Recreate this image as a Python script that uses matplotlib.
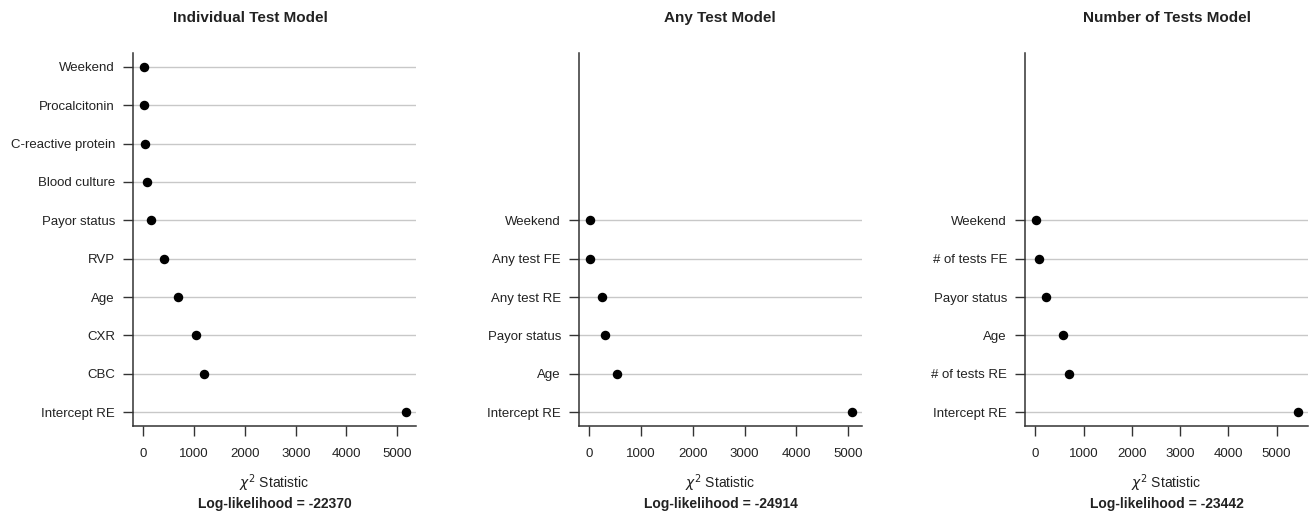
import numpy as np
import matplotlib.pyplot as plt

plt.rcParams['font.family'] = ['Liberation Sans', 'DejaVu Sans']

# Individual test model
ind_labels = ["Weekend", "Procalcitonin", "C-reactive protein", "Blood culture", "Payor status",
              "RVP", "Age", "CXR", "CBC", "Intercept RE"]
ind_chi2 = [5, 20, 33, 65, 150, 413, 675, 1035, 1193, 5164]

# Any test model
any_labels = ["Weekend", "Any test FE", "Any test RE", "Payor status", "Age", "Intercept RE"]
any_chi2 = [6, 6, 244, 302, 533, 5071]

# Number of tests model
num_labels = ["Weekend", "# of tests FE", "Payor status", "Age", "# of tests RE", "Intercept RE"]
num_chi2 = [7, 69, 227, 572, 689, 5434]

titles = ["Individual Test Model", "Any Test Model", "Number of Tests Model"]
loglik = [-22370, -24914, -23442]

W, H = 1314, 519
fig = plt.figure(figsize=(W / 100, H / 100), dpi=100)

# axes boxes in pixels: left, right ; title centres
boxes = [(133, 416), (579, 862), (1025, 1308)]
title_x = [250, 720, 1167]
top, bottom = 53, 426

panels = [(ind_labels, ind_chi2), (any_labels, any_chi2), (num_labels, num_chi2)]
txt = '#222222'

for i, ((labels, vals), (l, r)) in enumerate(zip(panels, boxes)):
    ax = fig.add_axes([l / W, 1 - bottom / H, (r - l) / W, (bottom - top) / H])
    n = len(labels)
    # bottom row = last label, stacked upward like R dotchart
    ypos = np.arange(1, n + 1)
    labs = labels[::-1]
    v = np.array(vals[::-1])
    for y in ypos:
        ax.axhline(y, color='#c8c8c8', lw=1.0, zorder=1)
    ax.scatter(v, ypos, s=34, color='black', zorder=3)
    ax.set_ylim(0.64, 10.36)
    xmax = max(vals)
    pad = 0.04 * xmax
    ax.set_xlim(-pad, xmax + pad)
    ax.set_yticks(ypos)
    ax.set_yticklabels(labs)
    ax.set_xticks([0, 1000, 2000, 3000, 4000, 5000])
    ax.tick_params(axis='both', direction='out', length=7, width=1, colors='#333333',
                   labelsize=9.5, labelcolor=txt, pad=6)
    ax.tick_params(axis='x', pad=9)
    for s in ['top', 'right']:
        ax.spines[s].set_visible(False)
    for s in ['left', 'bottom']:
        ax.spines[s].set_linewidth(1.1)
        ax.spines[s].set_color('#333333')
    fig.text(title_x[i] / W, 1 - 18 / H, titles[i], ha='center', va='center',
             fontsize=11, fontweight='bold', color=txt)
    cx = (l + r) / 2 / W
    fig.text(cx, 1 - 483 / H, r'$\chi^2$ Statistic', ha='center', va='center',
             fontsize=10, color=txt)
    fig.text(cx, 1 - 504 / H, f'Log-likelihood = {loglik[i]}', ha='center', va='center',
             fontsize=10, fontweight='bold', color=txt)

fig.savefig('out.png', dpi=100, facecolor='white')
